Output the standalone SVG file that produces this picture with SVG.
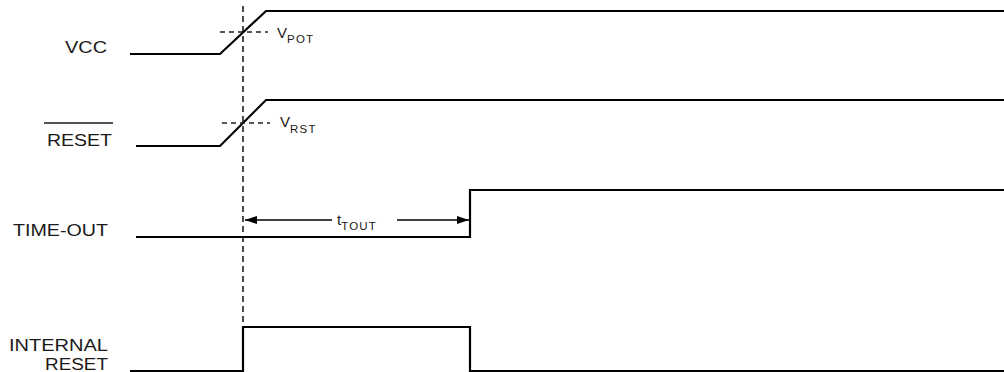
<svg xmlns="http://www.w3.org/2000/svg" width="1004" height="372" viewBox="0 0 1004 372">
<style>
.sig{fill:none;stroke:#000;stroke-width:2.2;stroke-linejoin:miter}
.lbl{font-family:"Liberation Sans",Arial,sans-serif;font-size:16px;fill:#1a1a1a}
.vt{font-family:"Liberation Sans",Arial,sans-serif;font-size:15px;fill:#1a1a1a}
.sub{font-size:11.5px;letter-spacing:1.2px}
.vdash{fill:none;stroke:#000;stroke-width:1.4;stroke-dasharray:6,4}
.hdash{fill:none;stroke:#222;stroke-width:1.3;stroke-dasharray:5,4}
.dim{fill:none;stroke:#000;stroke-width:1.4}
</style>
<defs>
<marker id="ah" viewBox="0 0 12 8" refX="12" refY="4" markerWidth="12" markerHeight="8" markerUnits="userSpaceOnUse" orient="auto-start-reverse">
<path d="M0,0 L12,4 L0,8 Z" fill="#000"/>
</marker>
</defs>
<rect width="1004" height="372" fill="#fff"/>
<g id="vcc">
<text class="lbl" x="65" y="53" textLength="42" lengthAdjust="spacingAndGlyphs">VCC</text>
<path class="sig" d="M130,54 H220 L266,11 H1004"/>
<path class="hdash" d="M220,32 H268"/>
<text class="vt" x="277" y="38">V<tspan class="sub" dy="5">POT</tspan></text>
</g>
<g id="reset">
<line x1="44" y1="123" x2="113" y2="123" stroke="#1a1a1a" stroke-width="1.4"/>
<text class="lbl" x="47" y="146" textLength="65" lengthAdjust="spacingAndGlyphs">RESET</text>
<path class="sig" d="M136,146 H220 L266,100 H1004"/>
<path class="hdash" d="M222,123 H270"/>
<text class="vt" x="280" y="127">V<tspan class="sub" dy="6">RST</tspan></text>
</g>
<g id="timeout">
<text class="lbl" x="13" y="236" textLength="95" lengthAdjust="spacingAndGlyphs">TIME-OUT</text>
<path class="sig" d="M136,237 H470 V190 H1004"/>
</g>
<g id="internal-reset">
<text class="lbl" x="9" y="351" textLength="99" lengthAdjust="spacingAndGlyphs">INTERNAL</text>
<text class="lbl" x="45" y="370" textLength="63" lengthAdjust="spacingAndGlyphs">RESET</text>
<path class="sig" d="M130,371 H243 V327 H470 V371 H1004"/>
</g>
<g id="connectors">
<path class="vdash" d="M243,6 V327"/>
<path class="dim" d="M245,220 H332" marker-start="url(#ah)"/>
<path class="dim" d="M397,220 H469" marker-end="url(#ah)"/>
<text class="vt" x="337" y="225">t<tspan class="sub" dy="5">TOUT</tspan></text>
</g>
</svg>
